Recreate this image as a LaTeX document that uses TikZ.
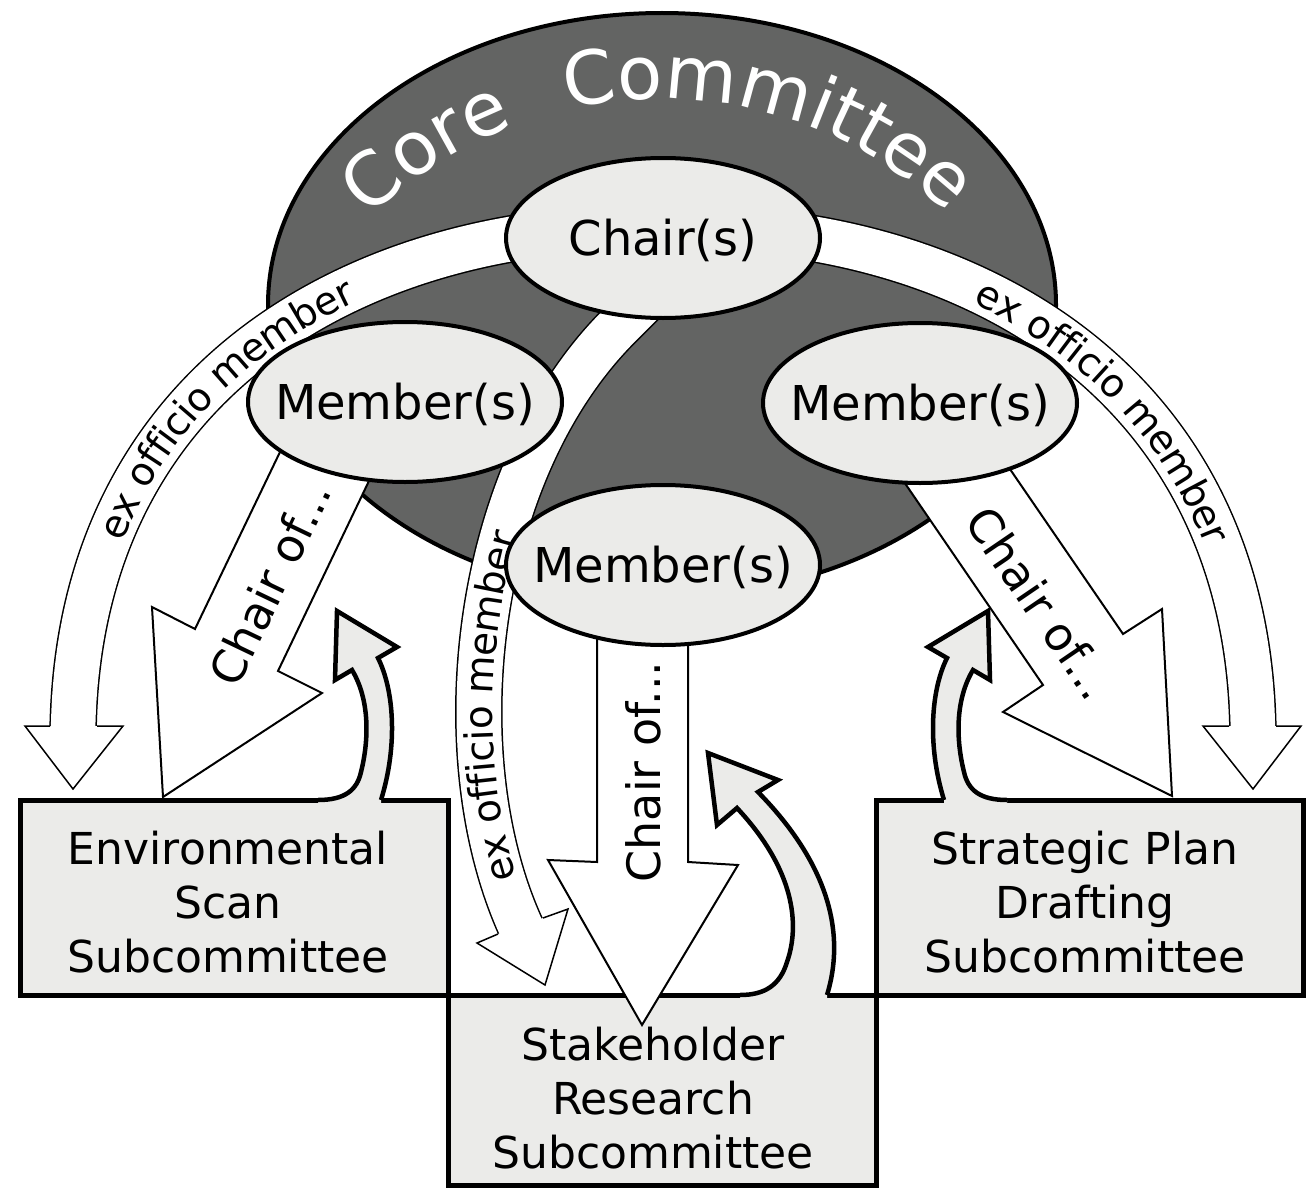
\documentclass[tikz,border=0pt]{standalone}
\usepackage{fontspec}
\setmainfont{DejaVu Sans}
\usetikzlibrary{decorations.text}
\definecolor{darkcore}{RGB}{99,100,99}
\definecolor{lgray}{RGB}{235,235,233}
\begin{document}
\begin{tikzpicture}[x=1pt,y=-1pt,line join=miter,
  ellst/.style={draw=black,line width=4pt,fill=lgray},
  boxst/.style={draw=black,line width=5pt,fill=lgray},
  chairarrow/.style={draw=black,line width=2pt,fill=white},
  bandst/.style={draw=black,line width=1.5pt,double=white,double distance=44.5pt},
  headst/.style={draw=black,line width=1.5pt,fill=white},
  grayline/.style={draw=black,line width=4.5pt},
  lbl/.style={font=\fontsize{48}{58}\selectfont,inner sep=0pt},
  boxlbl/.style={font=\fontsize{44}{54}\selectfont,align=center,inner sep=0pt},
  chairof/.style={font=\fontsize{46}{54}\selectfont,inner sep=0pt}]
\useasboundingbox (0,0) rectangle (1306,1188);

% subcommittee boxes
\draw[boxst] (20,800) rectangle (448,995);
\draw[boxst] (876,800) rectangle (1303,995);
\draw[boxst] (448,995) rectangle (876,1185);

% core committee
\draw[draw=black,line width=4pt,fill=darkcore] (662,305) ellipse[x radius=394,y radius=292];

% ex officio bands
\draw[bandst] (73,740) .. controls (73,420) and (300,260) .. (560,232);
\draw[bandst] (766,232) .. controls (1026,260) and (1253,420) .. (1253,740);
\draw[bandst] (527,940) .. controls (440,767) and (470,470) .. (623,322) -- (655,290);
\filldraw[headst] (50,726) -- (25,726) -- (73,789) -- (123,726) -- (97,726);
\filldraw[headst] (1276,726) -- (1301,726) -- (1253,789) -- (1203,726) -- (1229,726);
\filldraw[headst] (498,934) -- (477,943) -- (545,985) -- (568,909) -- (543,918);
\path[decorate,decoration={text along path,raise=-14pt,
  text={|\fontsize{39}{44}\selectfont|ex officio member},text align={left indent=207pt}}]
  (73,740) .. controls (73,420) and (300,260) .. (560,232);
\path[decorate,decoration={text along path,raise=-14pt,
  text={|\fontsize{39}{44}\selectfont|ex officio member},text align={left indent=222pt}}]
  (766,232) .. controls (1026,260) and (1253,420) .. (1253,740);
\path[decorate,decoration={text along path,raise=-14pt,
  text={|\fontsize{39}{44}\selectfont|ex officio member},text align={left indent=63pt}}]
  (527,940) .. controls (440,767) and (470,470) .. (623,322) -- (655,290);

% chair of arrows
\draw[chairarrow] (292,427) -- (195,629) -- (152,607) -- (163,797) -- (322,693) -- (278,671) -- (379,460) -- cycle;
\draw[chairarrow] (887,457) -- (1043,685) -- (1003,712) -- (1172,796) -- (1162,609) -- (1123,634) -- (990,440) -- cycle;
\draw[chairarrow] (597,600) -- (597,862) -- (548,860) -- (642,1025) -- (738,865) -- (688,862) -- (688,600) -- cycle;
\node[chairof,rotate=64.4] (cofL) at (270,583) {Chair of...};
\node[chairof,rotate=-55.7] (cofR) at (1040,603) {Chair of...};
\node[chairof,rotate=90] (cofC) at (643,772) {Chair of...};

% chair and members
\draw[ellst] (663,238) ellipse[x radius=157,y radius=80];
\draw[ellst] (405,402) ellipse[x radius=157,y radius=80];
\draw[ellst] (920,403) ellipse[x radius=157,y radius=80];
\draw[ellst] (663,565) ellipse[x radius=157,y radius=80];
\node[lbl] (chair) at (663,240) {Chair(s)};
\node[lbl] (memL) at (405,404) {Member(s)};
\node[lbl] (memR) at (920,405) {Member(s)};
\node[lbl] (memC) at (663,567) {Member(s)};

% core committee title
\path[decorate,decoration={text along path,
  text={|\color{white}\fontsize{74}{80}\selectfont|Core},text align=left}]
  (661,515) ++(-134.5:416) arc[start angle=-134.5,end angle=-104,radius=416];
\path[decorate,decoration={text along path,
  text={|\color{white}\fontsize{74}{80}\selectfont|Committee},text align=left}]
  (661,515) ++(-103:416) arc[start angle=-103,end angle=-30,radius=416];

% gray feedback arrows
\fill[lgray] (318,800) .. controls (345,800) and (357,790) .. (361,772)
  .. controls (369,740) and (370,700) .. (352,670) -- (335,680) -- (337,611) -- (397,647) -- (378,658)
  .. controls (394,690) and (398,745) .. (381,800) -- (381,806) -- (318,806) -- cycle;
\draw[grayline] (318,800) .. controls (345,800) and (357,790) .. (361,772)
  .. controls (369,740) and (370,700) .. (352,670) -- (335,680) -- (337,611) -- (397,647) -- (378,658)
  .. controls (394,690) and (398,745) .. (381,800);
\fill[lgray] (1007,800) .. controls (980,800) and (968,790) .. (964,772)
  .. controls (956,740) and (955,700) .. (973,670) -- (990,680) -- (988,611) -- (928,647) -- (947,658)
  .. controls (931,690) and (927,745) .. (944,800) -- (944,806) -- (1007,806) -- cycle;
\draw[grayline] (1007,800) .. controls (980,800) and (968,790) .. (964,772)
  .. controls (956,740) and (955,700) .. (973,670) -- (990,680) -- (988,611) -- (928,647) -- (947,658)
  .. controls (931,690) and (927,745) .. (944,800);
\fill[lgray] (740,995) .. controls (765,995) and (780,985) .. (787,962)
  .. controls (800,925) and (795,870) .. (737,808) -- (717,825) -- (708,753) -- (778,780) -- (758,792)
  .. controls (815,850) and (850,920) .. (827,995) -- (827,1001) -- (740,1001) -- cycle;
\draw[grayline] (740,995) .. controls (765,995) and (780,985) .. (787,962)
  .. controls (800,925) and (795,870) .. (737,808) -- (717,825) -- (708,753) -- (778,780) -- (758,792)
  .. controls (815,850) and (850,920) .. (827,995);

% box labels
\node[boxlbl] (env) at (228,902) {Environmental\\Scan\\Subcommittee};
\node[boxlbl] (strat) at (1085,902) {Strategic Plan\\Drafting\\Subcommittee};
\node[boxlbl] (stake) at (653,1098) {Stakeholder\\Research\\Subcommittee};
\end{tikzpicture}
\end{document}
